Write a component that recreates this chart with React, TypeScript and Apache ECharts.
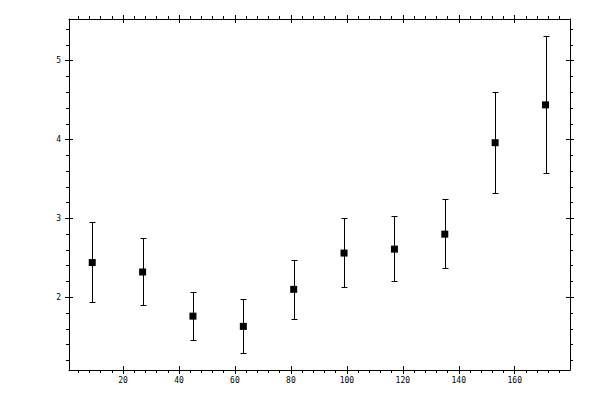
import * as echarts from 'echarts'
import { useEffect, useRef } from 'react'

// bin centres and measured values with their error bar limits
const xValues = [9, 27, 45, 63, 81, 99, 117, 135, 153, 171]
const yValues = [2.44, 2.32, 1.76, 1.63, 2.1, 2.56, 2.61, 2.8, 3.96, 4.44]
const yLow = [1.94, 1.9, 1.46, 1.29, 1.73, 2.13, 2.21, 2.37, 3.32, 3.57]
const yHigh = [2.95, 2.75, 2.06, 1.98, 2.47, 3.0, 3.03, 3.24, 4.6, 5.31]

// tick positions
const xMajor = [20, 40, 60, 80, 100, 120, 140, 160]
const xMinor = [
  4, 8, 12, 16, 24, 28, 32, 36, 44, 48, 52, 56, 64, 68, 72, 76, 84, 88, 92, 96, 104, 108, 112, 116,
  124, 128, 132, 136, 144, 148, 152, 156, 164, 168, 172, 176,
]
const yMajor = [2, 3, 4, 5]
const yMinor = [1.2, 1.4, 1.6, 1.8, 2.2, 2.4, 2.6, 2.8, 3.2, 3.4, 3.6, 3.8, 4.2, 4.4, 4.6, 4.8, 5.2, 5.4]

const X_MIN = 0.7
const X_MAX = 179.75
const Y_MIN = 1.077
const Y_MAX = 5.529

const labelFont = {
  color: '#000',
  fontSize: 8,
  fontFamily: 'DejaVu Sans Mono',
}

type Kind = 'line' | 'minor' | 'majorOut' | 'majorIn'

function makeAxis(kind: Kind, isX: boolean, position: string, withLabels: boolean) {
  const major = isX ? xMajor : yMajor
  const minor = isX ? xMinor : yMinor
  const ticks = kind === 'minor' ? minor : major
  return {
    type: 'value' as const,
    position,
    min: isX ? X_MIN : Y_MIN,
    max: isX ? X_MAX : Y_MAX,
    splitLine: { show: false },
    axisLine: {
      show: kind === 'line',
      onZero: false,
      lineStyle: { color: '#000', width: 1 },
    },
    axisTick: {
      show: kind !== 'line',
      inside: kind === 'majorIn',
      length: kind === 'minor' ? 3 : 4,
      customValues: ticks,
      lineStyle: { color: '#000', width: 1 },
    },
    axisLabel: {
      show: withLabels && kind === 'line',
      customValues: major,
      margin: isX ? 6 : 8,
      ...labelFont,
    },
  }
}

function sideAxes(isX: boolean, position: string, withLabels: boolean) {
  return (['line', 'minor', 'majorOut', 'majorIn'] as Kind[]).map((k) =>
    makeAxis(k, isX, position, withLabels),
  )
}

export default function App() {
  const ref = useRef<HTMLDivElement>(null)

  useEffect(() => {
    if (!ref.current) return
    const chart = echarts.init(ref.current, null, { renderer: 'svg' })

    const points = xValues.map((x, i) => [x, yValues[i]])
    const bars = xValues.map((x, i) => [x, yLow[i], yHigh[i]])
    const px = (v: number) => Math.round(v) + 0.5

    chart.setOption({
      animation: false,
      backgroundColor: '#fff',
      grid: { left: 69, right: 30, top: 19, bottom: 30 },
      xAxis: [...sideAxes(true, 'bottom', true), ...sideAxes(true, 'top', false)],
      yAxis: [...sideAxes(false, 'left', true), ...sideAxes(false, 'right', false)],
      series: [
        {
          type: 'custom',
          xAxisIndex: 0,
          yAxisIndex: 0,
          data: bars,
          z: 2,
          renderItem: (_params: any, api: any) => {
            const x = api.value(0)
            const top = api.coord([x, api.value(2)])
            const bot = api.coord([x, api.value(1)])
            const cx = px(top[0])
            const ty = px(top[1])
            const by = px(bot[1])
            const hw = 3
            const style = { stroke: '#000', lineWidth: 1 }
            return {
              type: 'group',
              children: [
                { type: 'line', shape: { x1: cx, y1: ty, x2: cx, y2: by }, style },
                { type: 'line', shape: { x1: cx - hw, y1: ty, x2: cx + hw, y2: ty }, style },
                { type: 'line', shape: { x1: cx - hw, y1: by, x2: cx + hw, y2: by }, style },
              ],
            }
          },
        },
        {
          type: 'scatter',
          xAxisIndex: 0,
          yAxisIndex: 0,
          data: points,
          symbol: 'rect',
          symbolSize: 7,
          itemStyle: { color: '#000', opacity: 1 },
          emphasis: { disabled: true },
          z: 3,
        },
      ],
    })

    return () => chart.dispose()
  }, [])

  return (
    <div
      ref={ref}
      style={{ position: 'fixed', left: 0, top: 0, width: 600, height: 400, background: '#fff' }}
    />
  )
}
